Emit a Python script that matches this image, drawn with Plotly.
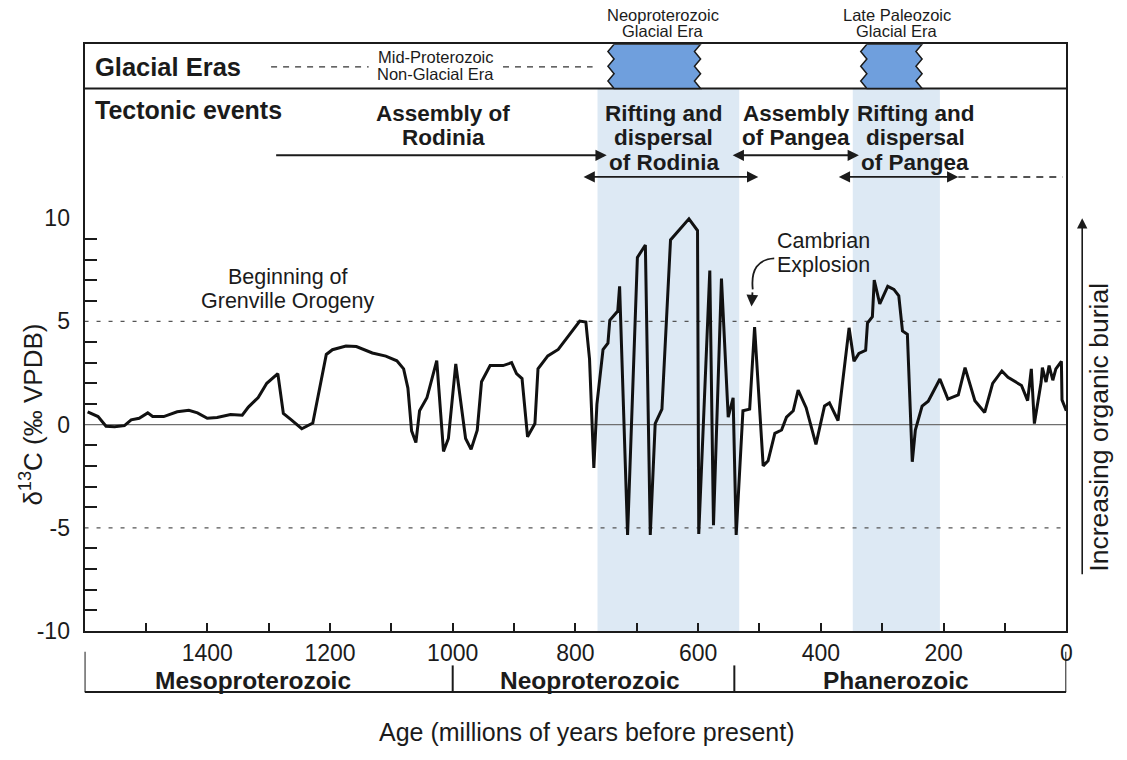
import plotly.graph_objects as go

# ---- carbon isotope record (age in Ma, delta13C in permil VPDB) ----
age_ma = [1595, 1578, 1565, 1551, 1535, 1524, 1511, 1497, 1489, 1471, 1449, 1430,
          1416, 1400, 1384, 1362, 1343, 1333, 1317, 1303, 1285, 1276, 1263, 1246,
          1228, 1206, 1196, 1174, 1157, 1131, 1109, 1091, 1080, 1073, 1067, 1060,
          1054, 1042, 1026, 1015, 1007, 995, 979, 970, 960, 953, 939, 918, 904,
          896, 887, 878, 866, 861, 845, 828, 793, 783, 777, 770, 765, 755, 747,
          744, 731, 728, 715, 699, 686, 678, 670, 659, 645, 615, 601, 599, 581,
          575, 562, 551, 543, 538, 527, 516, 508, 494, 486, 475, 464, 456, 445,
          437, 424, 408, 394, 386, 372, 354, 346, 338, 327, 324, 316, 313, 304,
          291, 281, 273, 267, 259, 251, 246, 235, 225, 206, 193, 176, 165, 149,
          133, 120, 105, 95, 73, 63, 57, 52, 41, 39, 33, 28, 22, 17, 8, 7, 0]
d13c = [0.62, 0.39, -0.08, -0.10, -0.05, 0.23, 0.31, 0.57, 0.39, 0.39, 0.62, 0.69,
        0.57, 0.31, 0.35, 0.49, 0.46, 0.85, 1.31, 2.0, 2.47, 0.54, 0.23, -0.2,
        0.08, 3.4, 3.63, 3.81, 3.78, 3.47, 3.32, 3.09, 2.7, 1.77, -0.3, -0.87,
        0.67, 1.3, 3.1, -1.3, -0.67, 2.94, -0.67, -1.2, -0.27, 2.08, 2.86, 2.86, 3.0,
        2.47, 2.23, -0.59, 0.05, 2.7, 3.33, 3.64, 5.02, 4.97, 3.17, -2.1, 0.98, 3.64, 3.95,
        5.05, 5.5, 6.7, -5.35, 8.1, 8.7, -5.35, 0.05, 0.75, 8.95, 9.97, 9.4, -5.3, 7.47,
        -4.87, 7.08, 0.36, 1.3, -5.35, 0.67, 0.75, 4.73, -2.0, -1.75, -0.42, -0.26, 0.36, 0.67,
        1.67, 0.82, -0.96, 0.9, 1.05, 0.2, 4.69, 3.07, 3.45, 3.6, 4.92, 5.23, 7.0, 5.85,
        6.7, 6.55, 6.24, 4.54, 4.38, -1.8, -0.26, 0.9, 1.13, 2.21, 1.24, 1.44, 2.76, 1.16,
        0.59, 2.0, 2.6, 2.29, 1.9, 1.16, 2.7, 0.05, 2.06, 2.76, 2.06, 2.86, 2.15, 2.7, 3.07, 1.2, 0.67]

# ---- axis ticks ----
x_label_ticks = [1400, 1200, 1000, 800, 600, 400, 200, 0]
x_label_text = ["1400", "1200", "1000", "800", "600", "400", "200", "0"]
x_minor_ticks = [1500, 1300, 1100, 900, 700, 500, 300, 100]
y_ticks = [-10, -5, 0, 5, 10]
y_tick_text = ["-10", "-5", "0", "5", "10"]
y_minor_ticks = [v for v in range(-9, 10) if v % 5 != 0]

# ---- context intervals (Ma) ----
rift_bands = [(764, 533), (348, 206)]
glacial_eras = [(737, 596), (325, 235)]
glacial_names = [("Neoproterozoic", "Glacial Era", 658), ("Late Paleozoic", "Glacial Era", 276)]
era_bounds = [1600, 1000, 541, 0]
era_names = ["Mesoproterozoic", "Neoproterozoic", "Phanerozoic"]
era_label_x = [1326, 777, 278]

FONT = "Liberation Sans, Arial, Helvetica, sans-serif"
INK = "#1b1b1b"
W, H = 1127, 760

X_RANGE = [1600, 0]
Y_RANGE = [-10, 18.43]
Y_ROW = 16.29          # divider between glacial and tectonic rows
Y_TOP = Y_RANGE[1]


def py(pix):
    """vertical pixel position -> paper fraction"""
    return 1 - pix / H


fig = go.Figure()
fig.add_trace(go.Scatter(x=age_ma, y=d13c, mode="lines",
                         line=dict(color="#111111", width=3), hoverinfo="skip"))

shapes = []
# light blue rifting bands
for a, b in rift_bands:
    shapes.append(dict(type="rect", xref="x", yref="y", x0=a, x1=b, y0=-10, y1=Y_ROW,
                       fillcolor="#dde9f4", line=dict(width=0), layer="below"))

# reference lines
shapes.append(dict(type="line", xref="x", yref="y", x0=1600, x1=0, y0=0, y1=0,
                   line=dict(color="#6f6f6f", width=1.3), layer="below"))
for v in (5, -5):
    shapes.append(dict(type="line", xref="x", yref="y", x0=1600, x1=0, y0=v, y1=v,
                       line=dict(color="#555555", width=1.3, dash="4px,8px"), layer="below"))

# row divider in the header
shapes.append(dict(type="line", xref="x", yref="y", x0=1600, x1=0, y0=Y_ROW, y1=Y_ROW,
                   line=dict(color=INK, width=2)))

# glacial eras as boxes with jagged edges
n_teeth = 6
amp = 10
for old, young in glacial_eras:
    pts = [(old, Y_TOP), (young, Y_TOP)]
    for i in range(1, n_teeth + 1):
        yv = Y_TOP - i * (Y_TOP - Y_ROW) / n_teeth
        pts.append((young + (amp if i % 2 else 0), yv))
    pts.append((old, Y_ROW))
    for i in range(n_teeth - 1, 0, -1):
        yv = Y_TOP - i * (Y_TOP - Y_ROW) / n_teeth
        pts.append((old + (amp if i % 2 else 0), yv))
    path = "M " + " L ".join(f"{x},{y}" for x, y in pts) + " Z"
    shapes.append(dict(type="path", xref="x", yref="y", path=path,
                       fillcolor="#6f9fdd", line=dict(color=INK, width=1.5)))

# dashed non-glacial interval
for a, b in [(1296, 1137), (918, 772)]:
    shapes.append(dict(type="line", xref="x", yref="y", x0=a, x1=b, y0=17.33, y1=17.33,
                       line=dict(color="#333333", width=1.3, dash="6px,6px")))

# dashed continuation of Pangea dispersal
shapes.append(dict(type="line", xref="x", yref="y", x0=176, x1=6, y0=12.0, y1=12.0,
                   line=dict(color=INK, width=1.6, dash="7px,6px")))

# geologic era bracket below the axis
shapes.append(dict(type="line", xref="x", yref="paper", x0=1600, x1=0, y0=py(704), y1=py(704),
                   line=dict(color=INK, width=2)))
for i, b in enumerate(era_bounds):
    top = py(663) if i in (0, len(era_bounds) - 1) else py(677)
    shapes.append(dict(type="line", xref="x", yref="paper", x0=b, x1=b, y0=py(704), y1=top,
                       line=dict(color=INK, width=2)))

# curved pointer to the Cambrian peak
shapes.append(dict(type="path", xref="x", yref="y",
                   path="M 476,8.05 Q 516,8.0 511,6.55",
                   line=dict(color=INK, width=1.8)))

annotations = []


def text(t, x, y, size, bold=False, xref="x", yref="paper", xanchor="center", angle=0):
    annotations.append(dict(text=f"<b>{t}</b>" if bold else t, x=x, y=y, xref=xref, yref=yref,
                            xanchor=xanchor, yanchor="middle", showarrow=False, textangle=angle,
                            borderpad=0, font=dict(family=FONT, size=size, color=INK)))


def arrow(x_head, x_tail, y, both=False):
    annotations.append(dict(text=" ", x=x_head, y=y, ax=x_tail, ay=y, xref="x", yref="y",
                            axref="x", ayref="y", showarrow=True, arrowhead=2, arrowsize=1.25,
                            arrowwidth=1.8, arrowcolor=INK, font=dict(size=4),
                            arrowside="end+start" if both else "end"))


# header rows
text("Glacial Eras", 1584, py(68), 25.5, bold=True, xanchor="left")
text("Tectonic events", 1584, py(112), 25, bold=True, xanchor="left")
text("Mid-Proterozoic", 1028, py(58), 16.5)
text("Non-Glacial Era", 1028, py(75), 16.5)
for l1, l2, xc in glacial_names:
    text(l1, xc, py(15), 16.5)
    text(l2, xc, py(32), 16.5)

text("Assembly of", 1015, py(115), 22.5, bold=True)
text("Rodinia", 1015, py(140), 22.5, bold=True)
text("Rifting and", 656, py(115), 22.5, bold=True)
text("dispersal", 656, py(140), 22.5, bold=True)
text("of Rodinia", 656, py(165), 22.5, bold=True)
text("Assembly", 440, py(115), 22.5, bold=True)
text("of Pangea", 440, py(140), 22.5, bold=True)
text("Rifting and", 246, py(115), 22.5, bold=True)
text("dispersal", 246, py(140), 22.5, bold=True)
text("of Pangea", 246, py(165), 22.5, bold=True)

arrow(749, 1291, 13.05)
arrow(502, 790, 12.0, both=True)
arrow(338, 547, 13.05, both=True)
arrow(176, 374, 12.0, both=True)

# events on the curve
text("Beginning of", 1268, 7.14, 21.5, yref="y")
text("Grenville Orogeny", 1268, 6.0, 21.5, yref="y")
text("Cambrian", 395, 8.9, 21.5, yref="y")
text("Explosion", 395, 7.71, 21.5, yref="y")
annotations.append(dict(text=" ", x=513, y=5.72, ax=511, ay=6.6, xref="x", yref="y",
                        axref="x", ayref="y", showarrow=True, arrowhead=2, arrowsize=1.3,
                        arrowwidth=1.8, arrowcolor=INK, font=dict(size=4)))

# era names and axis titles
for name, xc in zip(era_names, era_label_x):
    text(name, xc, py(692), 24.5, bold=True)
text("Age (millions of years before present)", 0.5235, py(745), 25, xref="paper")
text("δ<sup>13</sup>C (‰ VPDB)", 32 / W, py(422), 26, xref="paper", angle=-90)

# organic burial arrow on the right
annotations.append(dict(text=" ", x=1088 / W, y=py(222), xref="paper", yref="paper",
                        ax=0, ay=360, showarrow=True, arrowhead=2, arrowsize=1.3,
                        arrowwidth=1.6, arrowcolor=INK, font=dict(size=4)))
text("Increasing organic burial", 1104 / W, py(435), 26.5, xref="paper", angle=-90)

fig.update_layout(
    width=W, height=H, margin=dict(l=0, r=0, t=0, b=0),
    paper_bgcolor="white", plot_bgcolor="white", showlegend=False,
    shapes=shapes, annotations=annotations,
    font=dict(family=FONT, color=INK),
    xaxis=dict(domain=[85 / W, 1072 / W], range=X_RANGE, showgrid=False, zeroline=False,
               showline=True, mirror=True, linecolor=INK, linewidth=2,
               tickmode="array", tickvals=x_label_ticks, ticktext=x_label_text,
               ticks="inside", ticklen=8, tickwidth=1.5, tickcolor=INK,
               tickfont=dict(family=FONT, size=23, color=INK),
               minor=dict(tickmode="array", tickvals=x_minor_ticks, ticks="inside",
                          ticklen=8, tickwidth=1.5, tickcolor=INK)),
    yaxis=dict(domain=[py(642), py(45)], range=Y_RANGE, showgrid=False, zeroline=False,
               showline=True, mirror=True, linecolor=INK, linewidth=2,
               tickmode="array", tickvals=y_ticks, ticktext=y_tick_text, ticks="",
               ticklabelstandoff=8,
               tickfont=dict(family=FONT, size=23, color=INK),
               minor=dict(tickmode="array", tickvals=y_minor_ticks, ticks="inside",
                          ticklen=12, tickwidth=1.5, tickcolor=INK)),
)

fig.write_html("out.html")
